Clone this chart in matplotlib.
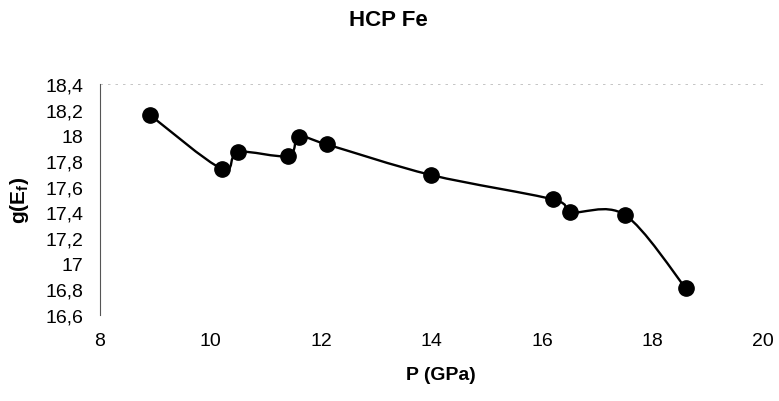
import matplotlib
matplotlib.use("Agg")
import matplotlib.pyplot as plt
from matplotlib.path import Path
import matplotlib.patches as patches
from matplotlib.ticker import FuncFormatter
import numpy as np

plt.rcParams['font.family'] = ['Liberation Sans', 'DejaVu Sans']
plt.rcParams['mathtext.fontset'] = 'custom'
plt.rcParams['mathtext.bf'] = 'Liberation Sans:bold'
plt.rcParams['mathtext.rm'] = 'Liberation Sans'

# --- dane ---
pressure = [8.9, 10.2, 10.5, 11.4, 11.6, 12.1, 14.0, 16.2, 16.5, 17.5, 18.6]
g_ef = [18.16, 17.74, 17.87, 17.84, 17.99, 17.93, 17.69, 17.50, 17.40, 17.38, 16.81]
x_ticks = [8, 10, 12, 14, 16, 18, 20]
y_ticks = [16.6, 16.8, 17.0, 17.2, 17.4, 17.6, 17.8, 18.0, 18.2, 18.4]

fig = plt.figure(figsize=(7.79, 4.02), dpi=100)
ax = fig.add_axes([0.1284, 0.214, 0.851, 0.5746])

# --- wygładzona linia (Catmull-Rom -> Bezier, jak w Excelu) ---
pts = np.column_stack([pressure, g_ef])
verts = [pts[0]]
codes = [Path.MOVETO]
n = len(pts)
for i in range(n - 1):
    p0 = pts[i - 1] if i > 0 else pts[i]
    p1 = pts[i]
    p2 = pts[i + 1]
    p3 = pts[i + 2] if i + 2 < n else pts[i + 1]
    c1 = p1 + (p2 - p0) / 6.0
    c2 = p2 - (p3 - p1) / 6.0
    verts += [c1, c2, p2]
    codes += [Path.CURVE4] * 3
ax.add_patch(patches.PathPatch(Path(verts, codes), fill=False, edgecolor='black', linewidth=1.7))

ax.plot(pressure, g_ef, linestyle='none', marker='o', markersize=11, color='black')

ax.set_xlim(8, 20)
ax.set_ylim(16.6, 18.4)
ax.set_xticks(x_ticks)
ax.set_yticks(y_ticks)
ax.yaxis.set_major_formatter(FuncFormatter(lambda v, p: f"{v:g}".replace('.', ',')))
ax.tick_params(length=0, labelsize=14)
ax.tick_params(axis='y', pad=12)
ax.tick_params(axis='x', pad=12)

for s in ['top', 'right', 'bottom']:
    ax.spines[s].set_visible(False)
ax.spines['left'].set_color('#555555')
ax.spines['left'].set_linewidth(0.8)
ax.axhline(18.4, color='#bbbbbb', linewidth=0.6, linestyle=(0, (3, 6)), clip_on=False)

ax.set_xlabel('P (GPa)', fontsize=14, fontweight='bold')
ax.xaxis.set_label_coords(0.514, -0.22)
ax.set_ylabel(r'$\mathbf{g(E_f)}$', fontsize=15, labelpad=10)
fig.suptitle('HCP Fe', fontsize=16, fontweight='bold', x=0.498, y=0.975)

fig.savefig('out.png', dpi=100)
